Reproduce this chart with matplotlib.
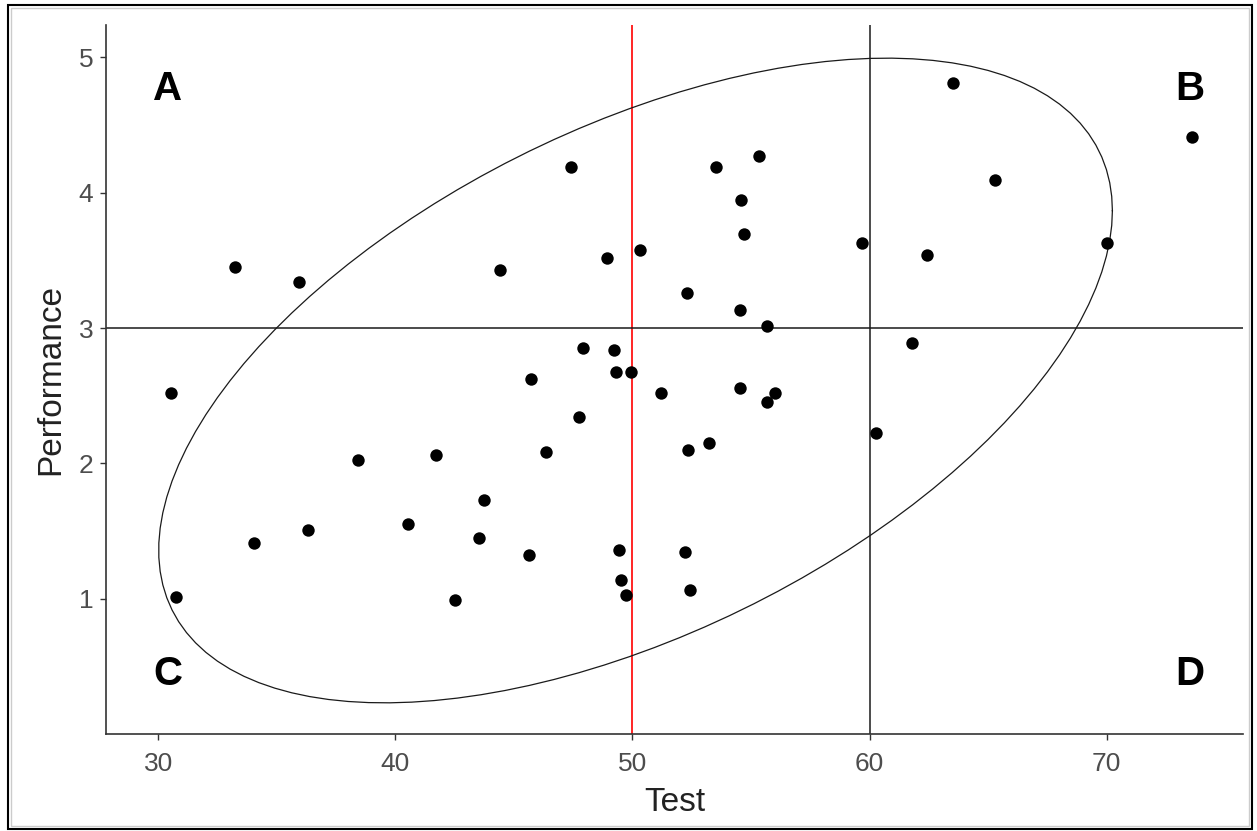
import numpy as np
import matplotlib
matplotlib.use("Agg")
import matplotlib.pyplot as plt
from matplotlib.patches import Rectangle

plt.rcParams['font.family'] = ['Liberation Sans', 'DejaVu Sans']

test = [33.25, 35.94, 30.55, 30.76, 34.05, 36.32, 38.43, 41.72, 43.74, 40.54,
        43.53, 45.64, 42.52, 47.41, 50.32, 48.93, 44.42, 47.92, 49.22, 49.31,
        49.94, 45.73, 51.21, 47.75, 53.23, 52.34, 49.44, 52.22, 49.52, 49.73,
        52.43, 46.36, 52.30, 53.52, 54.58, 54.70, 54.54, 54.54, 55.34, 55.67,
        55.67, 56.01, 59.68, 60.27, 61.79, 62.42, 63.52, 65.29, 70.01, 73.59]
performance = [3.455, 3.344, 2.523, 1.015, 1.414, 1.510, 2.028, 2.065, 1.732, 1.555,
               1.451, 1.325, 0.993, 4.187, 3.580, 3.521, 3.433, 2.856, 2.841, 2.678,
               2.678, 2.627, 2.523, 2.346, 2.153, 2.102, 1.362, 1.347, 1.140, 1.030,
               1.067, 2.087, 3.262, 4.194, 3.950, 3.699, 3.137, 2.560, 4.275, 3.018,
               2.457, 2.523, 3.632, 2.227, 2.893, 3.543, 4.808, 4.091, 3.632, 4.416]

x_ticks = [30, 40, 50, 60, 70]
y_ticks = [1, 2, 3, 4, 5]
vline_red = 50
vline_black = 60
hline = 3
quadrant_labels = ["A", "B", "C", "D"]
label_x = [30.4, 73.5, 30.4, 73.5]
label_y = [4.77, 4.77, 0.44, 0.44]
level = 0.95


def cov_trob(x, nu=5, maxit=25, tol=0.01):
    n, p = x.shape
    loc = x.mean(axis=0)
    w = np.ones(n)
    X = x - loc
    for _ in range(maxit):
        w0 = w
        X = x - loc
        A = np.sqrt(w / w.sum())[:, None] * X
        _, d, vt = np.linalg.svd(A, full_matrices=False)
        wX = X @ vt.T @ np.diag(1.0 / d)
        Q = (wX ** 2).sum(axis=1)
        w = (nu + p) / (nu + Q)
        loc = (w[:, None] * x).sum(axis=0) / w.sum()
        if np.all(np.abs(w - w0) < tol):
            break
    cov = (np.sqrt(w)[:, None] * X).T @ (np.sqrt(w)[:, None] * X) / n
    return loc, cov


data = np.column_stack([test, performance])
center, shape = cov_trob(data)
n = len(test)
dfd = n - 1
fq = (dfd / 2.0) * ((1 - level) ** (-2.0 / dfd) - 1)
radius = np.sqrt(2 * fq)
ang = np.linspace(0, 2 * np.pi, 120)
circ = np.column_stack([np.cos(ang), np.sin(ang)])
chol = np.linalg.cholesky(shape).T
ell = center + radius * circ @ chol

fig = plt.figure(figsize=(12.57, 8.31), dpi=100)
ax = fig.add_axes([0.0843, 0.1167, 0.9046, 0.8532])

ax.plot(ell[:, 0], ell[:, 1], color='#1a1a1a', lw=0.9, zorder=2)
ax.axvline(vline_red, color='#ff0000', lw=1.2, zorder=1)
ax.axvline(vline_black, color='#1a1a1a', lw=1.1, zorder=1)
ax.axhline(hline, color='#1a1a1a', lw=1.1, zorder=1)
ax.scatter(test, performance, s=80, color='black', zorder=3, linewidths=0)

for t, lx, ly in zip(quadrant_labels, label_x, label_y):
    ax.text(lx, ly, t, fontsize=29, fontweight='bold', ha='center', va='center',
            color='black')

ax.set_xlim(27.8, 75.75)
ax.set_ylim(0.0, 5.24)
ax.set_xticks(x_ticks)
ax.set_yticks(y_ticks)
ax.tick_params(axis='both', colors='#333333', labelcolor='#4d4d4d',
               labelsize=19, length=4, width=1.0, pad=5)
ax.tick_params(axis='x', pad=9)
for s in ['top', 'right']:
    ax.spines[s].set_visible(False)
for s in ['left', 'bottom']:
    ax.spines[s].set_color('#333333')
    ax.spines[s].set_linewidth(1.2)
ax.set_xlabel('Test', fontsize=24, color='#222222', labelpad=8)
ax.set_ylabel('Performance', fontsize=24, color='#222222', labelpad=9)

fig.patches.append(Rectangle((8 / 1257, 1 - 829 / 831), (1252 - 8) / 1257, (829 - 5) / 831,
                             transform=fig.transFigure, fill=False,
                             edgecolor='black', lw=1.5))
fig.patches.append(Rectangle((11 / 1257, 1 - 826 / 831), (1249 - 11) / 1257, (826 - 8) / 831,
                             transform=fig.transFigure, fill=False,
                             edgecolor='#cccccc', lw=1.0))

fig.savefig('out.png', dpi=100)
